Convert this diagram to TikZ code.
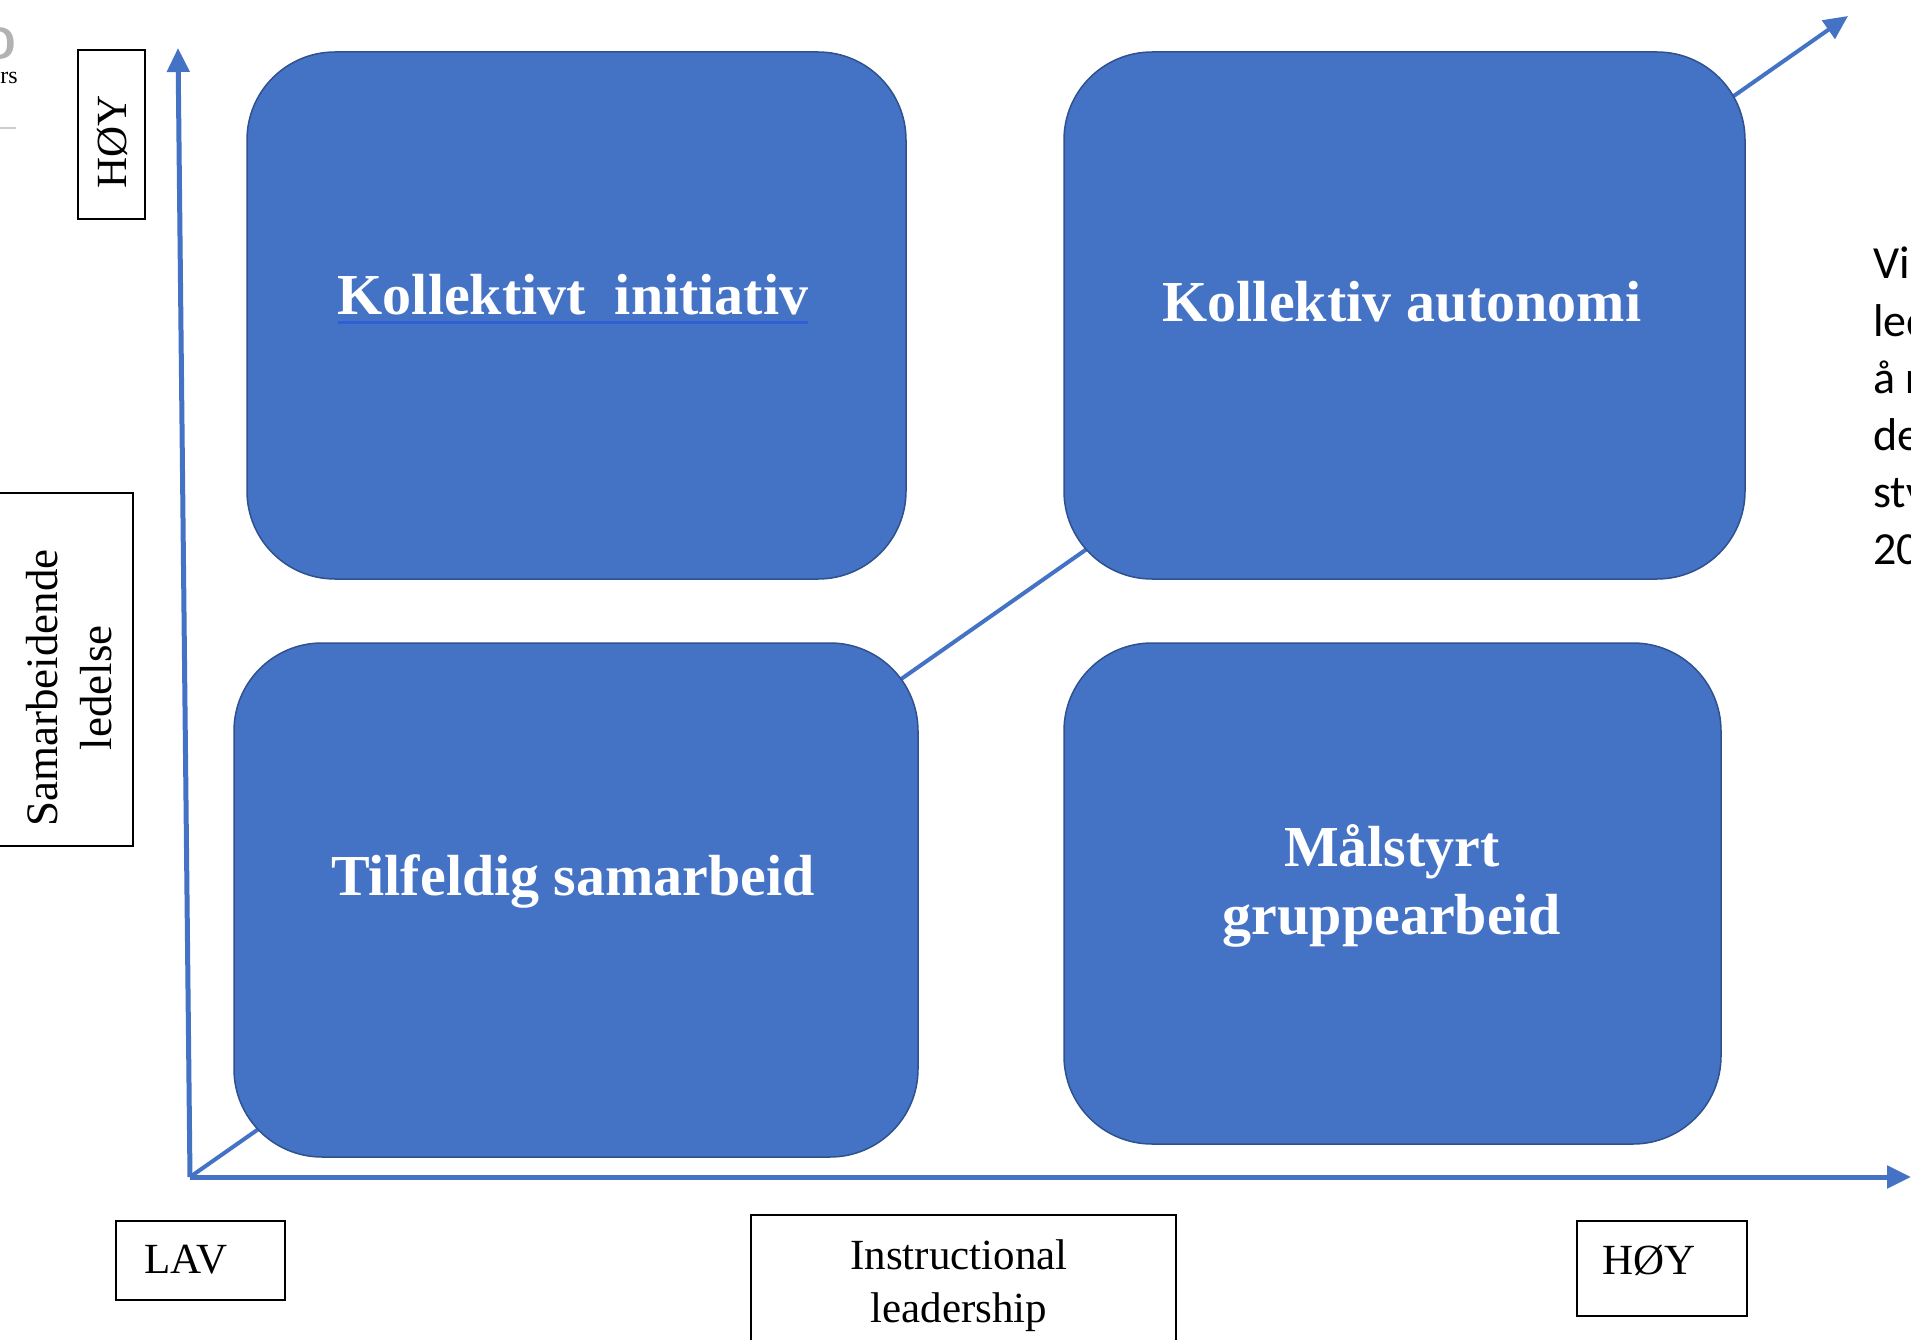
\documentclass[tikz,border=0pt]{standalone}
\usepackage{fontspec}
\setmainfont{Liberation Serif}
\newfontfamily\calib{Carlito}
\usetikzlibrary{arrows.meta}
\definecolor{qblue}{HTML}{4472C4}
\definecolor{qedge}{HTML}{2F528F}
\definecolor{ulblue}{HTML}{2E5FD6}
\begin{document}
\begin{tikzpicture}[x=1pt,y=-1pt,
  quad/.style={draw=qedge, line width=1.5pt, fill=qblue, rounded corners=88pt, inner sep=0pt},
  quadtext/.style={text=white, font=\fontsize{58}{68}\selectfont\bfseries, align=center, inner sep=0pt},
  lblbox/.style={draw=black, line width=2.2pt, fill=white, inner sep=0pt},
  lbltext/.style={font=\fontsize{43}{53}\selectfont, align=center, inner sep=0pt},
  axisarrow/.style={qblue, line width=5pt, -{Triangle[length=24pt,width=22pt]}},
  diagarrow/.style={qblue, line width=4pt, -{Triangle[length=24pt,width=22pt]}},
  sidetext/.style={font=\calib\fontsize{46}{46}\selectfont, anchor=base west, inner sep=0pt}
]
\useasboundingbox (0,0) rectangle (1911,1340);
\clip (0,0) rectangle (1911,1340);
\fill[white] (0,0) rectangle (1911,1340);

% scraps at top-left
\node[text=gray!60, font=\sffamily\bfseries\fontsize{46}{46}\selectfont, anchor=base east, inner sep=0pt] (scrapA) at (17,60) {D};
\node[font=\fontsize{24}{24}\selectfont, anchor=base east, inner sep=0pt] (scrapB) at (18,84) {rs};
\coordinate (gl1) at (0,128);
\coordinate (gl2) at (16,128);
\draw[gray!40, line width=1.5pt] (gl1) -- (gl2);

% axes coordinates
\coordinate (O) at (190,1177);
\coordinate (Ytip) at (178,48);
\coordinate (Xtip) at (1911,1177);
\coordinate (Dtip) at (1848,16);

% diagonal behind boxes
\draw[diagarrow] (O) -- (Dtip);

% quadrant boxes
\node[quad, minimum width=659pt, minimum height=527pt] (tl) at (576.5,315.5) {};
\node[quad, minimum width=681pt, minimum height=527pt] (tr) at (1404.5,315.5) {};
\node[quad, minimum width=684pt, minimum height=514pt] (bl) at (576,900) {};
\node[quad, minimum width=657pt, minimum height=501pt] (br) at (1392.5,893.5) {};

\node[quadtext, anchor=base] (tltext) at (573,314) {Kollektivt\ \ initiativ};
\draw[ulblue, line width=3pt] ([yshift=-8pt]tltext.south west) -- ([yshift=-8pt]tltext.south east);
\node[quadtext, anchor=base] (trtext) at (1402,321) {Kollektiv autonomi};
\node[quadtext, anchor=base] (bltext) at (573,895) {Tilfeldig samarbeid};
\node[quadtext, anchor=base] (brtext1) at (1392,866) {Målstyrt};
\node[quadtext, anchor=base] (brtext2) at (1392,934) {gruppearbeid};

% axes
\draw[axisarrow] (O) -- (Ytip);
\draw[axisarrow] (O) -- (Xtip);

% label boxes
\node[lblbox, minimum width=67pt, minimum height=169pt] (hoyv) at (111.5,134.5) {};
\node[lbltext, rotate=90] (hoyvt) at (112,142) {HØY};
\node[lblbox, minimum width=153pt, minimum height=353pt] (samb) at (56.5,669.5) {};
\node[lbltext, rotate=90, font=\fontsize{45}{54}\selectfont] (sambt) at (69,688) {Samarbeidende\\ledelse};
\node[lblbox, minimum width=169pt, minimum height=79pt] (lav) at (200.5,1260.5) {};
\node[lbltext] (lavt) at (186,1260) {LAV};
\node[lblbox, minimum width=425pt, minimum height=160pt] (instr) at (963.5,1295) {};
\node[lbltext] (instrt) at (959,1286) {Instructional\\leadership};
\node[lblbox, minimum width=170pt, minimum height=95pt] (hoyh) at (1662,1268.5) {};
\node[lbltext] (hoyht) at (1649,1260) {HØY};

% clipped side text
\node[sidetext] (s1) at (1873,279) {Vi};
\node[sidetext] (s2) at (1873,336) {led};
\node[sidetext] (s3) at (1873,393) {å r};
\node[sidetext] (s4) at (1873,450) {de};
\node[sidetext] (s5) at (1873,507) {sty};
\node[sidetext] (s6) at (1873,564) {20};
\end{tikzpicture}
\end{document}
